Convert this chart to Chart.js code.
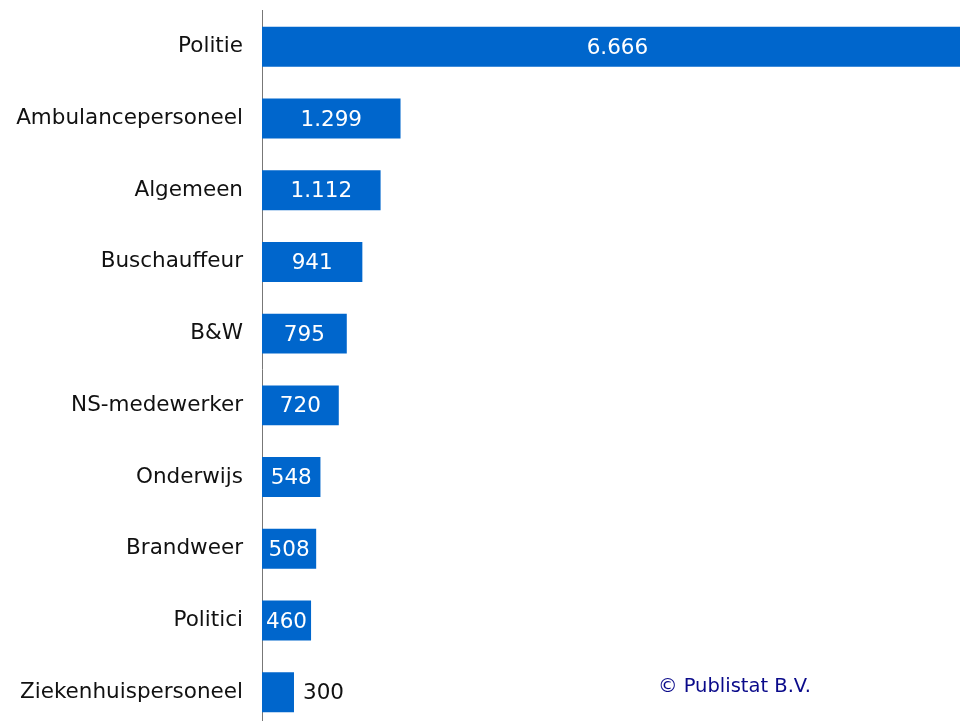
<!DOCTYPE html>
<html>
<head>
<meta charset="utf-8">
<script src="https://cdn.jsdelivr.net/npm/chart.js@4"></script>
<style>
html,body{margin:0;padding:0;background:#fff;overflow:hidden;width:960px;height:721px;}
#wrap{position:relative;width:960px;height:721px;overflow:hidden;}
#c{position:absolute;left:0;top:-21px;}
#credit{position:absolute;left:658px;top:674px;font-family:"DejaVu Sans",Verdana,sans-serif;font-size:19.5px;color:#0a0a8a;white-space:nowrap;}
</style>
</head>
<body>
<div id="wrap">
<canvas id="c" width="960" height="781"></canvas>
<div id="credit">© Publistat B.V.</div>
</div>
<script>
const categories = ["Politie","Ambulancepersoneel","Algemeen","Buschauffeur","B&W","NS-medewerker","Onderwijs","Brandweer","Politici","Ziekenhuispersoneel"];
const values = [6666,1299,1112,941,795,720,548,508,460,300];
const valueLabels = ["6.666","1.299","1.112","941","795","720","548","508","460","300"];

const FONT = '"DejaVu Sans", Verdana, sans-serif';

const labelPlugin = {
  id: 'barLabels',
  afterDatasetsDraw(chart) {
    const ctx = chart.ctx;
    const meta = chart.getDatasetMeta(0);
    ctx.save();
    ctx.font = '21.5px ' + FONT;
    ctx.textBaseline = 'middle';
    meta.data.forEach((bar, i) => {
      const txt = valueLabels[i];
      const w = ctx.measureText(txt).width;
      const len = bar.x - bar.base;
      if (w + 2 < len) {
        ctx.fillStyle = '#ffffff';
        ctx.textAlign = 'center';
        ctx.fillText(txt, (bar.x + bar.base) / 2, bar.y + 1.5);
      } else {
        ctx.fillStyle = '#111111';
        ctx.textAlign = 'left';
        ctx.fillText(txt, bar.x + 9, bar.y + 1.5);
      }
    });
    ctx.restore();
  }
};

new Chart(document.getElementById('c'), {
  type: 'bar',
  data: {
    labels: categories,
    datasets: [{
      data: values,
      backgroundColor: '#0066cc',
      borderWidth: 0,
      barPercentage: 0.557,
      categoryPercentage: 1.0
    }]
  },
  options: {
    indexAxis: 'y',
    responsive: false,
    animation: false,
    layout: { padding: { top: 11, right: 0, bottom: 0, left: 0 } },
    plugins: { legend: { display: false }, tooltip: { enabled: false } },
    scales: {
      x: {
        min: 0, max: 6545,
        display: false,
        grid: { display: false }
      },
      y: {
        grid: { display: false, drawTicks: false },
        border: { display: true, color: '#777777', width: 1 },
        ticks: { color: '#111111', font: { family: FONT, size: 21.5 }, padding: 19 },
        afterFit(scale) { scale.width = 262; }
      }
    }
  },
  plugins: [labelPlugin]
});
</script>
</body>
</html>
